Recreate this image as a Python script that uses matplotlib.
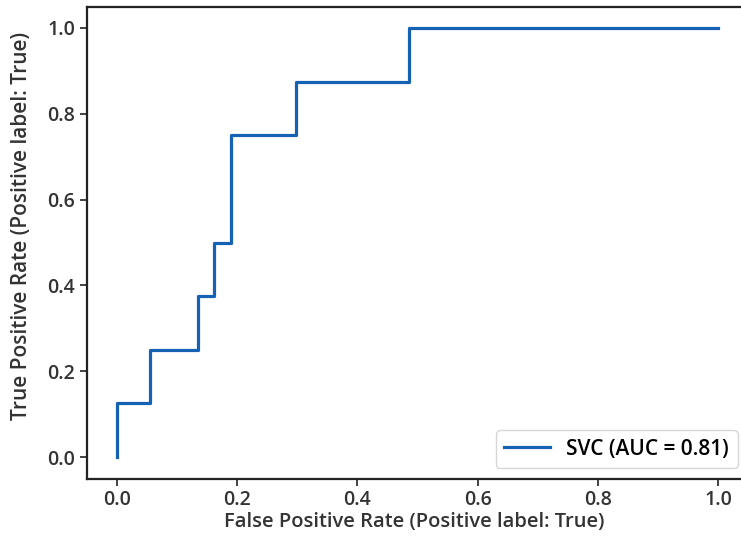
import matplotlib
matplotlib.use("Agg")
import matplotlib.pyplot as plt

plt.rcParams["font.family"] = ["Open Sans", "DejaVu Sans"]

# ROC curve of the SVC classifier (step-wise, 8 positives / 37 negatives)
fpr = [0.0, 0.0, 2/37, 2/37, 5/37, 5/37, 6/37, 6/37, 7/37, 7/37, 11/37, 11/37, 18/37, 18/37, 1.0]
tpr = [0.0, 0.125, 0.125, 0.25, 0.25, 0.375, 0.375, 0.5, 0.5, 0.75, 0.75, 0.875, 0.875, 1.0, 1.0]
auc_value = 0.81
label = f"SVC (AUC = {auc_value:.2f})"

fig = plt.figure(figsize=(7.41, 5.48), dpi=100)
ax = fig.add_axes([0.1174, 0.1268, 0.8920, 0.8613])

ax.plot(fpr, tpr, color="#1562b4", linewidth=2.3, label=label)

ax.set_xticks([0.0, 0.2, 0.4, 0.6, 0.8, 1.0])
ax.set_yticks([0.0, 0.2, 0.4, 0.6, 0.8, 1.0])
ax.tick_params(labelsize=14, colors="#333333", width=1.3, length=5)
for lbl in ax.get_xticklabels() + ax.get_yticklabels():
    lbl.set_fontweight("semibold")
for s in ax.spines.values():
    s.set_linewidth(1.6)
    s.set_color("#222222")
ax.spines["right"].set_visible(False)

ax.set_xlabel("False Positive Rate (Positive label: True)", fontsize=14.5,
              color="#333333", fontweight="semibold")
ax.xaxis.set_label_coords(0.495, -0.071)
ax.set_ylabel("True Positive Rate (Positive label: True)", fontsize=15,
              color="#333333", fontweight="semibold")
ax.yaxis.set_label_coords(-0.083, 0.535)

leg = ax.legend(loc="lower right", handlelength=2.2,
                prop={"size": 15, "weight": "semibold"})
leg.get_frame().set_edgecolor("#cccccc")

fig.savefig("out.png", dpi=100)
